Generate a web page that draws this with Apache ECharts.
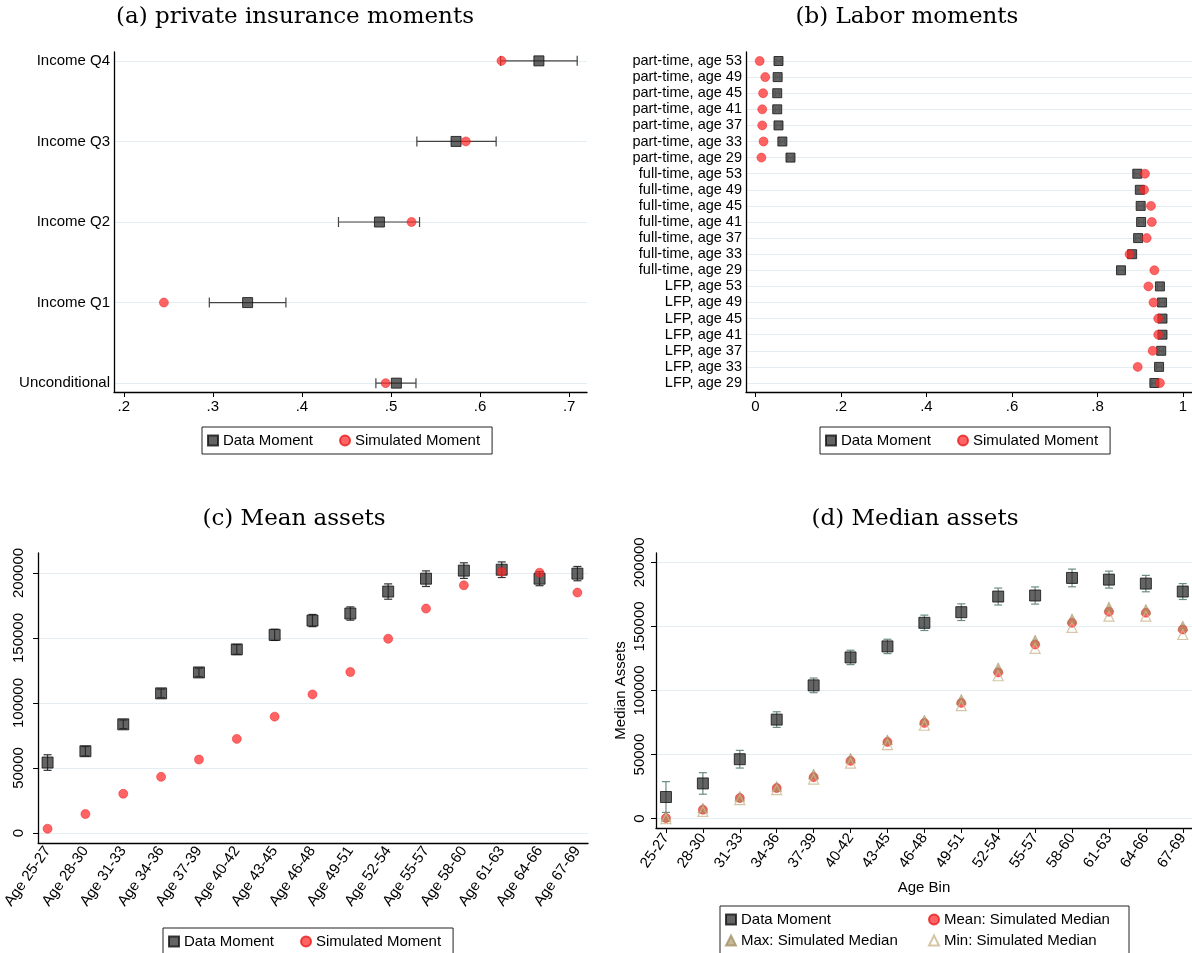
<!DOCTYPE html>
<html>
<head>
<meta charset="utf-8">
<script src="https://cdn.jsdelivr.net/npm/echarts@6/dist/echarts.min.js"></script>
<style>
html,body{margin:0;padding:0;background:#fff}
#chart{width:1192px;height:953px}
</style>
</head>
<body>
<div id="chart"></div>
<script>
// (a) private insurance moments, bottom row first
var insLabels = ['Unconditional', 'Income Q1', 'Income Q2', 'Income Q3', 'Income Q4'];
var insData = [0.506, 0.339, 0.487, 0.573, 0.666];
var insLow = [0.483, 0.296, 0.441, 0.529, 0.623];
var insHigh = [0.528, 0.382, 0.532, 0.618, 0.709];
var insSim = [0.494, 0.245, 0.523, 0.584, 0.624];

// (b) labor moments, bottom row first
var laborLabels = ['LFP, age 29', 'LFP, age 33', 'LFP, age 37', 'LFP, age 41', 'LFP, age 45', 'LFP, age 49', 'LFP, age 53',
  'full-time, age 29', 'full-time, age 33', 'full-time, age 37', 'full-time, age 41', 'full-time, age 45', 'full-time, age 49', 'full-time, age 53',
  'part-time, age 29', 'part-time, age 33', 'part-time, age 37', 'part-time, age 41', 'part-time, age 45', 'part-time, age 49', 'part-time, age 53'];
var laborData = [0.933, 0.944, 0.949, 0.952, 0.952, 0.951, 0.946,
  0.855, 0.881, 0.895, 0.902, 0.901, 0.899, 0.893,
  0.082, 0.063, 0.054, 0.051, 0.051, 0.052, 0.054];
var laborHalf = [0.006, 0.006, 0.005, 0.005, 0.005, 0.006, 0.006,
  0.007, 0.007, 0.006, 0.006, 0.006, 0.006, 0.007,
  0.007, 0.006, 0.006, 0.005, 0.005, 0.005, 0.006];
var laborSim = [0.946, 0.894, 0.929, 0.942, 0.942, 0.931, 0.919,
  0.933, 0.875, 0.915, 0.927, 0.925, 0.909, 0.911,
  0.014, 0.019, 0.016, 0.016, 0.018, 0.023, 0.010];

// (c) mean assets
var ageBins = ['25-27', '28-30', '31-33', '34-36', '37-39', '40-42', '43-45', '46-48', '49-51', '52-54', '55-57', '58-60', '61-63', '64-66', '67-69'];
var meanData = [54200, 62900, 83600, 107400, 123500, 141200, 152400, 163400, 168800, 185700, 195600, 201800, 202500, 195600, 199500];
var meanHalf = [6000, 3600, 3300, 3300, 3300, 3700, 4300, 4700, 5100, 5900, 6000, 6000, 6000, 5400, 5500];
var meanSim = [3300, 14600, 30200, 43200, 56500, 72400, 89500, 106600, 123800, 149400, 172600, 190500, 201000, 200200, 184900];

// (d) median assets
var medData = [16900, 27500, 46400, 77300, 104000, 125800, 134400, 152800, 161100, 173300, 174100, 187800, 186500, 183400, 177200];
var medHalf = [12000, 8400, 6900, 6100, 5700, 5600, 5600, 6000, 6500, 6600, 6700, 6900, 6600, 6400, 6200];
var medMean = [500, 7000, 16100, 23900, 32400, 45100, 59900, 74700, 90300, 114100, 135900, 152800, 161400, 160600, 147600];
var medMax = [1800, 8300, 17400, 25200, 34800, 47200, 61500, 77000, 93100, 117800, 139300, 155900, 165200, 163400, 150400];
var medMin = [0, 5700, 14800, 22600, 30900, 43300, 57800, 72900, 88200, 111500, 132800, 149200, 158000, 158000, 143700];

var insTicks = [0.2, 0.3, 0.4, 0.5, 0.6, 0.7];
var laborTicks = [0, 0.2, 0.4, 0.6, 0.8, 1];
var assetTicks = [0, 50000, 100000, 150000, 200000];

var SANS = '"Liberation Sans", Arial, sans-serif';
var SERIF = '"DejaVu Serif", "Liberation Serif", serif';

function rowsOf(list) {
  var out = [];
  for (var i = 0; i < list.length; i++) out.push(i + 1);
  return out;
}
function binIdx() {
  var out = [];
  for (var i = 0; i < ageBins.length; i++) out.push(i);
  return out;
}
function shortNum(v) {
  var s = String(Math.round(v * 10) / 10);
  return s.indexOf('0.') === 0 ? s.slice(1) : s;
}
function plainNum(v) {
  return String(Math.round(v));
}

var axisLine = {show: true, onZero: false, lineStyle: {color: '#000', width: 1.3}};
var gridLine = {show: true, lineStyle: {color: '#e4edf1', width: 1}};
var sqStyle = {color: 'rgba(40,40,40,0.9)', borderColor: '#111', borderWidth: 1};
var dotStyle = {color: 'rgba(255,40,40,0.9)', borderColor: 'rgba(230,20,20,0.95)', borderWidth: 0.6};

// horizontal whiskers: value = [low, high, row]
function hWhisker(color, cap) {
  return function (params, api) {
    var y = api.value(2);
    var a = api.coord([api.value(0), y]);
    var b = api.coord([api.value(1), y]);
    var st = {stroke: color, lineWidth: 1.2};
    return {type: 'group', children: [
      {type: 'line', shape: {x1: a[0], y1: a[1], x2: b[0], y2: b[1]}, style: st},
      {type: 'line', shape: {x1: a[0], y1: a[1] - cap, x2: a[0], y2: a[1] + cap}, style: st},
      {type: 'line', shape: {x1: b[0], y1: b[1] - cap, x2: b[0], y2: b[1] + cap}, style: st}
    ]};
  };
}
// vertical whiskers: value = [x, low, high]
function vWhisker(color, cap) {
  return function (params, api) {
    var x = api.value(0);
    var a = api.coord([x, api.value(1)]);
    var b = api.coord([x, api.value(2)]);
    var st = {stroke: color, lineWidth: 1.2};
    return {type: 'group', children: [
      {type: 'line', shape: {x1: a[0], y1: a[1], x2: b[0], y2: b[1]}, style: st},
      {type: 'line', shape: {x1: a[0] - cap, y1: a[1], x2: a[0] + cap, y2: a[1]}, style: st},
      {type: 'line', shape: {x1: b[0] - cap, y1: b[1], x2: b[0] + cap, y2: b[1]}, style: st}
    ]};
  };
}

var insRows = rowsOf(insLabels);
var laborRows = rowsOf(laborLabels);
var bins = binIdx();

var legendText = {fontFamily: SANS, fontSize: 15, color: '#000'};
function boxLegend(left, top, names) {
  return {
    left: left, top: top, orient: 'horizontal', data: names,
    itemWidth: 10, itemHeight: 10, itemGap: 26, padding: [6, 12, 6, 5],
    borderColor: '#222', borderWidth: 1, textStyle: legendText, selectedMode: false
  };
}
function panelTitle(text, x, y) {
  return {type: 'text', x: x, y: y, style: {text: text, font: '23px ' + SERIF, fill: '#000', textAlign: 'center', textVerticalAlign: 'middle'}};
}

var option = {
  animation: false,
  backgroundColor: '#fff',
  graphic: [
    panelTitle('(a) private insurance moments', 295, 17),
    panelTitle('(b) Labor moments', 907, 17),
    panelTitle('(c) Mean assets', 294, 519),
    panelTitle('(d) Median assets', 915, 519),
    {type: 'rect', shape: {x: 720, y: 906, width: 409, height: 52}, style: {fill: 'none', stroke: '#222', lineWidth: 1}}
  ],
  legend: [
    boxLegend(202, 427, ['Data Moment', 'Simulated Moment']),
    boxLegend(820, 427, ['Data Moment', 'Simulated Moment']),
    boxLegend(163, 928, ['Data Moment', 'Simulated Moment']),
    {left: 725, top: 912, orient: 'vertical', data: ['Data Moment', 'Max: Simulated Median'],
      itemWidth: 10, itemHeight: 10, itemGap: 6, padding: 0, textStyle: legendText, selectedMode: false},
    {left: 928, top: 912, orient: 'vertical', data: ['Mean: Simulated Median', 'Min: Simulated Median'],
      itemWidth: 10, itemHeight: 10, itemGap: 6, padding: 0, textStyle: legendText, selectedMode: false}
  ],
  grid: [
    {left: 114, top: 52, width: 473, height: 340},
    {left: 746, top: 52, width: 446, height: 340},
    {left: 36, top: 553, width: 552, height: 290},
    {left: 656, top: 553, width: 536, height: 275}
  ],
  xAxis: [
    {type: 'value', gridIndex: 0, min: 0.189, max: 0.72, axisLine: axisLine,
      axisTick: {show: true, length: 5, customValues: insTicks, lineStyle: {color: '#000'}},
      axisLabel: {customValues: insTicks, formatter: shortNum, fontFamily: SANS, fontSize: 15, color: '#000', margin: 7},
      splitLine: {show: false}},
    {type: 'value', gridIndex: 1, min: -0.022, max: 1.021, axisLine: axisLine,
      axisTick: {show: true, length: 5, customValues: laborTicks, lineStyle: {color: '#000'}},
      axisLabel: {customValues: laborTicks, formatter: shortNum, fontFamily: SANS, fontSize: 15, color: '#000', margin: 7},
      splitLine: {show: false}},
    {type: 'value', gridIndex: 2, min: -0.25, max: 14.28, axisLine: axisLine,
      axisTick: {show: false, customValues: bins},
      axisLabel: {customValues: bins, rotate: 55, margin: 5, fontFamily: SANS, fontSize: 15, color: '#000',
        formatter: function (v) { return 'Age ' + ageBins[v]; }},
      splitLine: {show: false}},
    {type: 'value', gridIndex: 3, min: -0.27, max: 14.25, axisLine: axisLine,
      name: 'Age Bin', nameLocation: 'middle', nameGap: 52, nameTextStyle: {fontFamily: SANS, fontSize: 15, color: '#000'},
      axisTick: {show: true, length: 5, customValues: bins, lineStyle: {color: '#000'}},
      axisLabel: {customValues: bins, rotate: 55, margin: 7, fontFamily: SANS, fontSize: 15, color: '#000',
        formatter: function (v) { return ageBins[v]; }},
      splitLine: {show: false}}
  ],
  yAxis: [
    {type: 'value', gridIndex: 0, min: 0.89, max: 5.11, axisLine: axisLine,
      axisTick: {show: false, customValues: insRows},
      axisLabel: {customValues: insRows, margin: 4, fontFamily: SANS, fontSize: 15, color: '#000',
        formatter: function (v) { return insLabels[v - 1]; }},
      splitLine: gridLine},
    {type: 'value', gridIndex: 1, min: 0.44, max: 21.56, axisLine: axisLine,
      axisTick: {show: false, customValues: laborRows},
      axisLabel: {customValues: laborRows, margin: 4, fontFamily: SANS, fontSize: 14.5, color: '#000',
        formatter: function (v) { return laborLabels[v - 1]; }},
      splitLine: gridLine},
    {type: 'value', gridIndex: 2, min: -7675, max: 215350, axisLine: axisLine,
      axisTick: {show: true, length: 5, customValues: assetTicks, lineStyle: {color: '#000'}},
      axisLabel: {customValues: assetTicks, rotate: 90, margin: 12, fontFamily: SANS, fontSize: 15, color: '#000', formatter: plainNum},
      splitLine: gridLine},
    {type: 'value', gridIndex: 3, min: -7263, max: 207263, axisLine: axisLine,
      name: 'Median Assets', nameLocation: 'middle', nameGap: 28, nameRotate: 90,
      nameTextStyle: {fontFamily: SANS, fontSize: 15, color: '#000'},
      axisTick: {show: true, length: 5, customValues: assetTicks, lineStyle: {color: '#000'}},
      axisLabel: {customValues: assetTicks, rotate: 90, margin: 9, fontFamily: SANS, fontSize: 15, color: '#000', formatter: plainNum},
      splitLine: gridLine}
  ],
  series: [
    // (a)
    {type: 'custom', xAxisIndex: 0, yAxisIndex: 0, renderItem: hWhisker('#444', 5), encode: {x: [0, 1], y: 2},
      data: insRows.map(function (r, i) { return [insLow[i], insHigh[i], r]; }), z: 2, silent: true},
    {name: 'Data Moment', type: 'scatter', xAxisIndex: 0, yAxisIndex: 0, symbol: 'rect', symbolSize: 10, itemStyle: sqStyle,
      data: insRows.map(function (r, i) { return [insData[i], r]; }), z: 3},
    {name: 'Simulated Moment', type: 'scatter', xAxisIndex: 0, yAxisIndex: 0, symbol: 'circle', symbolSize: 9, itemStyle: dotStyle,
      data: insRows.map(function (r, i) { return [insSim[i], r]; }), z: 4},
    // (b)
    {type: 'custom', xAxisIndex: 1, yAxisIndex: 1, renderItem: hWhisker('#555', 3), encode: {x: [0, 1], y: 2},
      data: laborRows.map(function (r, i) { return [laborData[i] - laborHalf[i], laborData[i] + laborHalf[i], r]; }), z: 4, silent: true},
    {name: 'Data Moment', type: 'scatter', xAxisIndex: 1, yAxisIndex: 1, symbol: 'rect', symbolSize: 9, itemStyle: sqStyle,
      data: laborRows.map(function (r, i) { return [laborData[i], r]; }), z: 3},
    {name: 'Simulated Moment', type: 'scatter', xAxisIndex: 1, yAxisIndex: 1, symbol: 'circle', symbolSize: 9, itemStyle: dotStyle,
      data: laborRows.map(function (r, i) { return [laborSim[i], r]; }), z: 5},
    // (c)
    {type: 'custom', xAxisIndex: 2, yAxisIndex: 2, renderItem: vWhisker('#333', 4), encode: {x: 0, y: [1, 2]},
      data: bins.map(function (b, i) { return [b, meanData[i] - meanHalf[i], meanData[i] + meanHalf[i]]; }), z: 2, silent: true},
    {name: 'Data Moment', type: 'scatter', xAxisIndex: 2, yAxisIndex: 2, symbol: 'rect', symbolSize: 11, itemStyle: sqStyle,
      data: bins.map(function (b, i) { return [b, meanData[i]]; }), z: 3},
    {name: 'Simulated Moment', type: 'scatter', xAxisIndex: 2, yAxisIndex: 2, symbol: 'circle', symbolSize: 9, itemStyle: dotStyle,
      data: bins.map(function (b, i) { return [b, meanSim[i]]; }), z: 4},
    // (d)
    {type: 'custom', xAxisIndex: 3, yAxisIndex: 3, renderItem: vWhisker('#6b8c84', 4), encode: {x: 0, y: [1, 2]},
      data: bins.map(function (b, i) { return [b, medData[i] - medHalf[i], medData[i] + medHalf[i]]; }), z: 2, silent: true},
    {name: 'Data Moment', type: 'scatter', xAxisIndex: 3, yAxisIndex: 3, symbol: 'rect', symbolSize: 11, itemStyle: sqStyle,
      data: bins.map(function (b, i) { return [b, medData[i]]; }), z: 3},
    {name: 'Mean: Simulated Median', type: 'scatter', xAxisIndex: 3, yAxisIndex: 3, symbol: 'circle', symbolSize: 9, itemStyle: dotStyle,
      data: bins.map(function (b, i) { return [b, medMean[i]]; }), z: 4},
    {name: 'Max: Simulated Median', type: 'scatter', xAxisIndex: 3, yAxisIndex: 3, symbol: 'triangle', symbolSize: 10,
      itemStyle: {color: 'rgba(160,140,90,0.75)', borderColor: 'rgba(150,130,80,0.8)', borderWidth: 0.6},
      data: bins.map(function (b, i) { return [b, medMax[i]]; }), z: 5},
    {name: 'Min: Simulated Median', type: 'scatter', xAxisIndex: 3, yAxisIndex: 3, symbol: 'triangle', symbolSize: 10,
      itemStyle: {color: 'rgba(255,255,255,0)', borderColor: '#c9b890', borderWidth: 1.2},
      data: bins.map(function (b, i) { return [b, medMin[i]]; }), z: 6}
  ]
};

var chart = echarts.init(document.getElementById('chart'));
chart.setOption(option);
</script>
</body>
</html>
